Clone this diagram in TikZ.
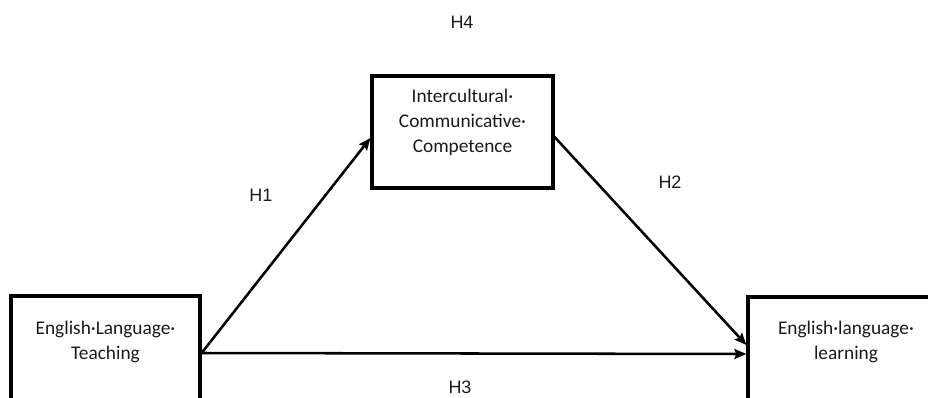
\documentclass[tikz,border=0pt]{standalone}
\usepackage{fontspec}
\setmainfont{Carlito}
\newfontfamily\hypfont{Liberation Sans}
\usetikzlibrary{arrows.meta}
\definecolor{ink}{HTML}{1A1A1A}

\tikzset{
  box/.style={draw=black, line width=2.4pt, inner sep=0pt},
  boxtext/.style={align=center, text=ink, inner sep=0pt,
    font=\fontsize{14.5}{18.75}\selectfont},
  hyp/.style={text=ink, inner sep=0pt, font=\hypfont\fontsize{13.5}{16}\selectfont},
  link/.style={line width=1.9pt, -{Stealth[length=9pt,width=7.5pt,inset=1.5pt]}}
}

\begin{document}
\begin{tikzpicture}[x=0.75pt,y=-0.75pt]
    \useasboundingbox (0,0) rectangle (928,397);
    \clip (0,0) rectangle (928,397);
    % boxes
    \node [box, minimum width=141.75pt, minimum height=85.5pt] (elt) at (105.5,353) {};
    \node [box, minimum width=135.75pt, minimum height=84pt] (icc) at (462.5,132) {};
    \node [box, minimum width=147pt, minimum height=85.5pt] (ell) at (846,354) {};
    \node [boxtext] (elt-text) at (105.5,342) {English·Language·\\Teaching};
    \node [boxtext] (icc-text) at (462.5,122.5) {Intercultural·\\Communicative·\\Competence};
    \node [boxtext] (ell-text) at (846,342) {English·language·\\learning};
    % paths
    \draw [link] (elt.east) -- ([yshift=-4.5pt]icc.west);
    \draw [link] ([yshift=-3.75pt]icc.east) -- ([yshift=6.75pt]ell.west);
    \draw [link] (elt.east) -- (ell.west);
    \node [hyp] (h1) at (261,195) {H1};
    \node [hyp] (h2) at (670,182) {H2};
    \node [hyp] (h3) at (460,387) {H3};
    \node [hyp] (h4) at (462,22) {H4};
  \end{tikzpicture}
\end{document}
